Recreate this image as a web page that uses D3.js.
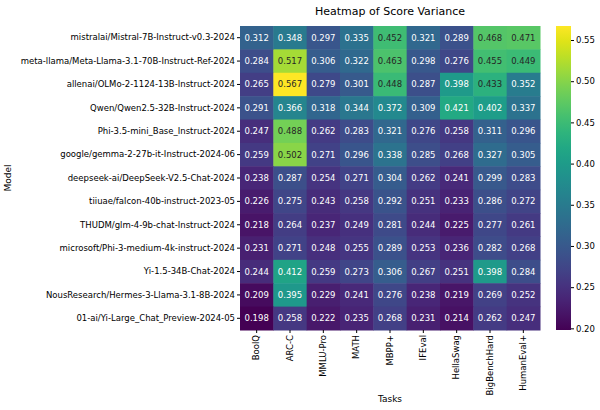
<!DOCTYPE html>
<html>
<head>
<meta charset="utf-8">
<script src="https://cdn.jsdelivr.net/npm/d3@7"></script>
<style>
  body { margin: 0; background: #fff; }
  text { font-family: "DejaVu Sans", sans-serif; }
</style>
</head>
<body>
<svg id="chart" width="600" height="410"></svg>
<script>
const models = [
  "mistralai/Mistral-7B-Instruct-v0.3-2024",
  "meta-llama/Meta-Llama-3.1-70B-Instruct-Ref-2024",
  "allenai/OLMo-2-1124-13B-Instruct-2024",
  "Qwen/Qwen2.5-32B-Instruct-2024",
  "Phi-3.5-mini_Base_Instruct-2024",
  "google/gemma-2-27b-it-Instruct-2024-06",
  "deepseek-ai/DeepSeek-V2.5-Chat-2024",
  "tiiuae/falcon-40b-instruct-2023-05",
  "THUDM/glm-4-9b-chat-Instruct-2024",
  "microsoft/Phi-3-medium-4k-instruct-2024",
  "Yi-1.5-34B-Chat-2024",
  "NousResearch/Hermes-3-Llama-3.1-8B-2024",
  "01-ai/Yi-Large_Chat_Preview-2024-05"
];
const tasks = ["BoolQ", "ARC-C", "MMLU-Pro", "MATH", "MBPP+", "IFEval", "HellaSwag", "BigBenchHard", "HumanEval+"];
const values = [
  [0.312, 0.348, 0.297, 0.335, 0.452, 0.321, 0.289, 0.468, 0.471],
  [0.284, 0.517, 0.306, 0.322, 0.463, 0.298, 0.276, 0.455, 0.449],
  [0.265, 0.567, 0.279, 0.301, 0.448, 0.287, 0.398, 0.433, 0.352],
  [0.291, 0.366, 0.318, 0.344, 0.372, 0.309, 0.421, 0.402, 0.337],
  [0.247, 0.488, 0.262, 0.283, 0.321, 0.276, 0.258, 0.311, 0.296],
  [0.259, 0.502, 0.271, 0.296, 0.338, 0.285, 0.268, 0.327, 0.305],
  [0.238, 0.287, 0.254, 0.271, 0.304, 0.262, 0.241, 0.299, 0.283],
  [0.226, 0.275, 0.243, 0.258, 0.292, 0.251, 0.233, 0.286, 0.272],
  [0.218, 0.264, 0.237, 0.249, 0.281, 0.244, 0.225, 0.277, 0.261],
  [0.231, 0.271, 0.248, 0.255, 0.289, 0.253, 0.236, 0.282, 0.268],
  [0.244, 0.412, 0.259, 0.273, 0.306, 0.267, 0.251, 0.398, 0.284],
  [0.209, 0.395, 0.229, 0.241, 0.276, 0.238, 0.219, 0.269, 0.252],
  [0.198, 0.258, 0.222, 0.235, 0.268, 0.231, 0.214, 0.262, 0.247]
];
const colorTicks = [0.20, 0.25, 0.30, 0.35, 0.40, 0.45, 0.50, 0.55];
const title = "Heatmap of Score Variance";
const xTitle = "Tasks";
const yTitle = "Model";

const svg = d3.select("#chart");
const gLeft = 240, gRight = 540, gTop = 26, gBottom = 330;

const x = d3.scaleBand().domain(tasks).range([gLeft, gRight]);
const y = d3.scaleBand().domain(models).range([gTop, gBottom]);
const flat = values.flat();
const vmin = d3.min(flat), vmax = d3.max(flat);
const color = d3.scaleSequential(d3.interpolateViridis).domain([vmin, vmax]);

const cells = [];
values.forEach((row, i) => row.forEach((v, j) => cells.push({m: models[i], t: tasks[j], v})));

svg.append("g").selectAll("rect").data(cells).join("rect")
  .attr("x", d => x(d.t)).attr("y", d => y(d.m))
  .attr("width", x.bandwidth() + 0.5).attr("height", y.bandwidth() + 0.5)
  .attr("fill", d => color(d.v));

svg.append("g").selectAll("text").data(cells).join("text")
  .attr("x", d => x(d.t) + x.bandwidth() / 2)
  .attr("y", d => y(d.m) + y.bandwidth() / 2)
  .attr("text-anchor", "middle").attr("dominant-baseline", "central")
  .attr("font-size", 8.5)
  .attr("fill", d => {
    const c = d3.rgb(color(d.v));
    const lum = (0.299 * c.r + 0.587 * c.g + 0.114 * c.b) / 255;
    return lum > 0.5 ? "#262626" : "#ffffff";
  })
  .text(d => d3.format(".3f")(d.v));

// y axis
const yAxis = svg.append("g").attr("transform", `translate(${gLeft},0)`)
  .call(d3.axisLeft(y).tickSize(3).tickPadding(2));
yAxis.select(".domain").remove();
yAxis.selectAll("text").attr("font-size", 8.5).attr("fill", "#000");

// x axis
const xAxis = svg.append("g").attr("transform", `translate(0,${gBottom})`)
  .call(d3.axisBottom(x).tickSize(3).tickPadding(2));
xAxis.select(".domain").remove();
xAxis.selectAll("text")
  .attr("font-size", 8.5).attr("fill", "#000")
  .attr("transform", "rotate(-90)")
  .attr("text-anchor", "end")
  .attr("dy", "0.32em")
  .attr("x", -5).attr("y", 0);

// title & axis labels
svg.append("text").attr("x", (gLeft + gRight) / 2).attr("y", 15)
  .attr("text-anchor", "middle").attr("font-size", 11).text(title);
svg.append("text").attr("x", (gLeft + gRight) / 2).attr("y", 402)
  .attr("text-anchor", "middle").attr("font-size", 9).text(xTitle);
svg.append("text").attr("transform", `translate(11,${(gTop + gBottom) / 2}) rotate(-90)`)
  .attr("text-anchor", "middle").attr("font-size", 9).text(yTitle);

// colorbar
const cbX = 556, cbW = 15;
const cbScale = d3.scaleLinear().domain([vmin, vmax]).range([gBottom, gTop]);
const defs = svg.append("defs");
const grad = defs.append("linearGradient").attr("id", "cbgrad")
  .attr("x1", 0).attr("y1", 1).attr("x2", 0).attr("y2", 0);
d3.range(0, 1.0001, 0.05).forEach(t => {
  grad.append("stop").attr("offset", t).attr("stop-color", color(vmin + t * (vmax - vmin)));
});
svg.append("rect").attr("x", cbX).attr("y", gTop).attr("width", cbW).attr("height", gBottom - gTop)
  .attr("fill", "url(#cbgrad)");
const cbAxis = svg.append("g").attr("transform", `translate(${cbX + cbW},0)`)
  .call(d3.axisRight(cbScale).tickValues(colorTicks.filter(t => t >= vmin - 1e-9 && t <= vmax)).tickFormat(d3.format(".2f")).tickSize(3).tickPadding(2));
cbAxis.select(".domain").remove();
cbAxis.selectAll("text").attr("font-size", 8.5).attr("fill", "#000");
</script>
</body>
</html>
